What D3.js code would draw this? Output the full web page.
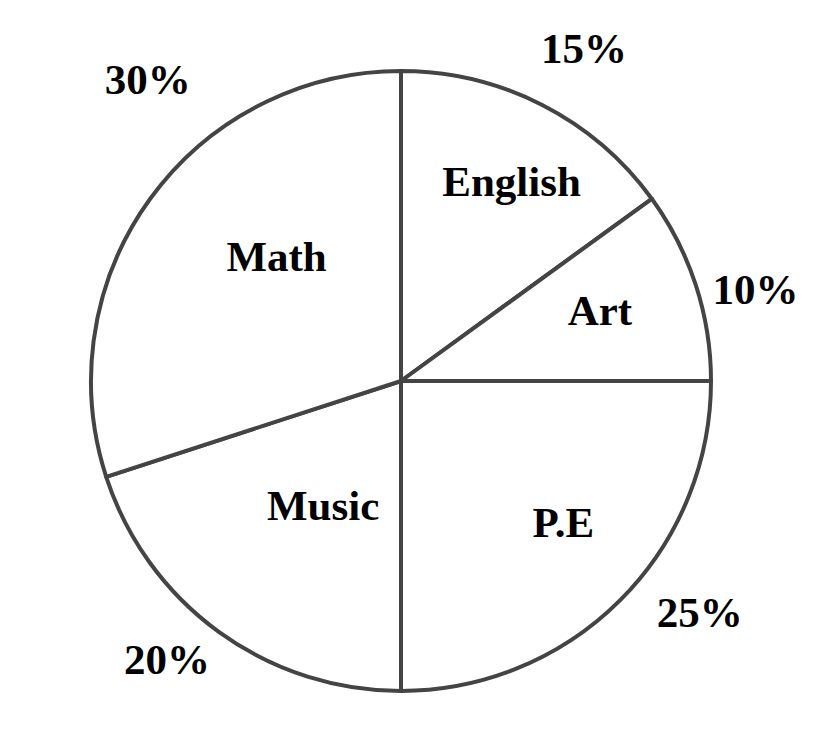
<!DOCTYPE html>
<html>
<head>
<meta charset="utf-8">
<script src="https://cdn.jsdelivr.net/npm/d3@7"></script>
<style>
  html, body { margin: 0; padding: 0; background: #fff; }
  svg { display: block; }
  text { font-family: "Liberation Serif", "Times New Roman", serif; font-weight: bold; fill: #000; }
</style>
</head>
<body>
<svg id="chart" width="836" height="754"></svg>
<script>
const categories = ["English", "Art", "P.E", "Music", "Math"];
const values = [15, 10, 25, 20, 30];
const percentLabels = ["15%", "10%", "25%", "20%", "30%"];

// layout (not data): radial placement of labels
const nameRadius = [228, 211, 215, 147, 176];
const nameAngleShift = [2, -1.5, -4, -4, 9];     // degrees
const pctRadius = [380, 366, 378, 364, 394];
const pctAngleShift = [1.8, 3.6, -7.2, 4, 14];

const width = 836, height = 754;
const cx = 401, cy = 381, R = 310;

const svg = d3.select("#chart");
const g = svg.append("g").attr("transform", `translate(${cx},${cy})`);

const pie = d3.pie().sort(null).value(d => d)(values);
const arc = d3.arc().innerRadius(0).outerRadius(R);

g.selectAll("path.slice")
  .data(pie)
  .join("path")
  .attr("class", "slice")
  .attr("d", arc)
  .attr("fill", "#fff")
  .attr("stroke", "#444")
  .attr("stroke-width", 4)
  .attr("stroke-linejoin", "round");

function polar(r, angleRad) {
  return [r * Math.sin(angleRad), -r * Math.cos(angleRad)];
}
const deg = Math.PI / 180;

g.selectAll("text.name")
  .data(pie)
  .join("text")
  .attr("class", "name")
  .attr("text-anchor", "middle")
  .attr("dominant-baseline", "central")
  .attr("font-size", 43)
  .attr("transform", (d, i) => {
    const a = (d.startAngle + d.endAngle) / 2 + nameAngleShift[i] * deg;
    const [x, y] = polar(nameRadius[i], a);
    return `translate(${x},${y})`;
  })
  .text((d, i) => categories[i]);

g.selectAll("text.pct")
  .data(pie)
  .join("text")
  .attr("class", "pct")
  .attr("text-anchor", "middle")
  .attr("dominant-baseline", "central")
  .attr("font-size", 43)
  .attr("transform", (d, i) => {
    const a = (d.startAngle + d.endAngle) / 2 + pctAngleShift[i] * deg;
    const [x, y] = polar(pctRadius[i], a);
    return `translate(${x},${y})`;
  })
  .text((d, i) => percentLabels[i]);
</script>
</body>
</html>
